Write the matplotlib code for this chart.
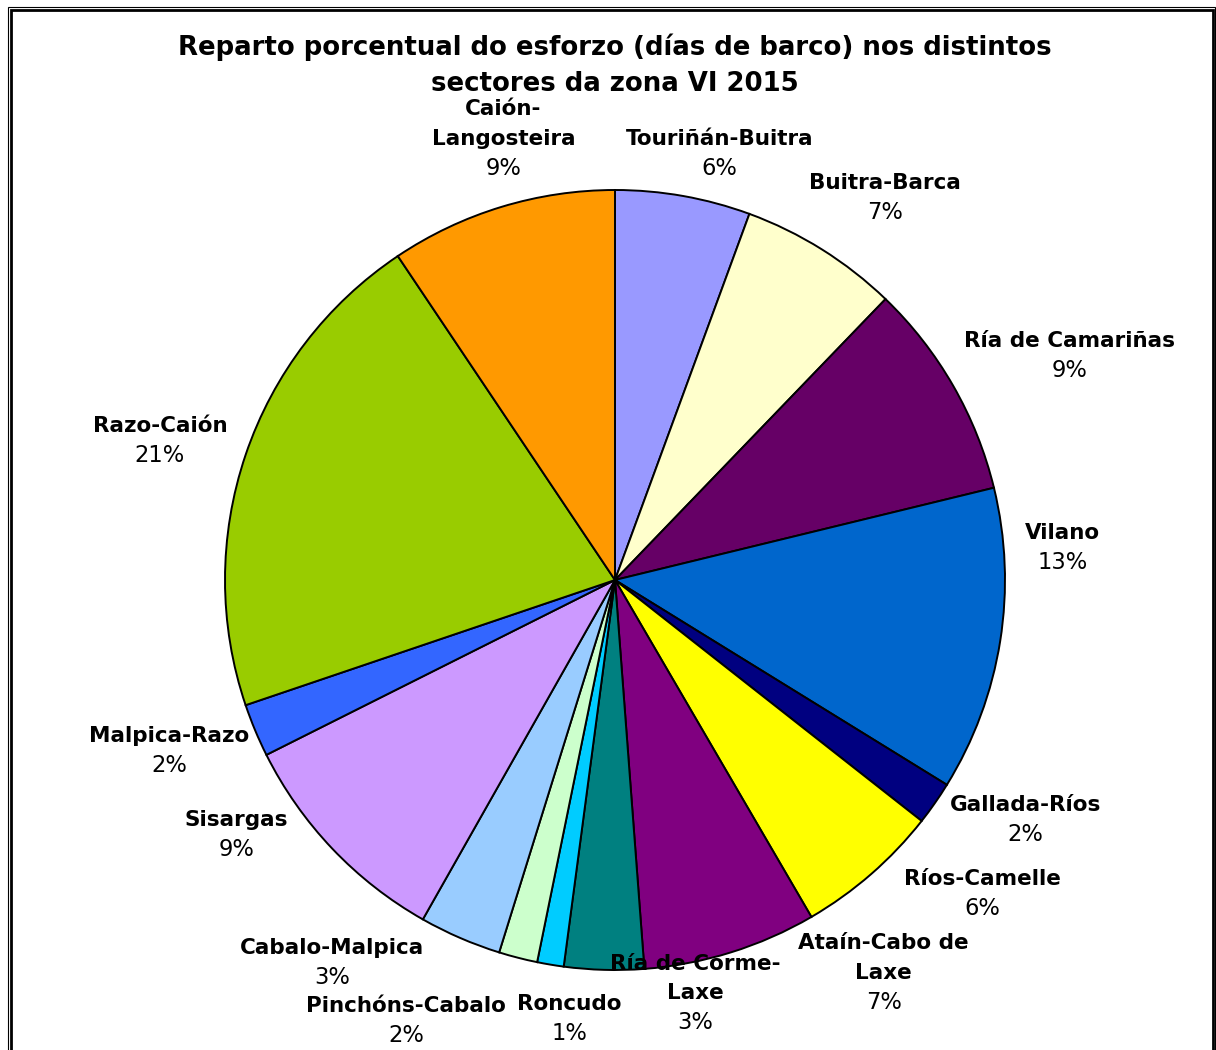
import matplotlib
matplotlib.use("Agg")
import matplotlib.pyplot as plt
import numpy as np
from matplotlib.patches import Rectangle

plt.rcParams['font.family'] = ['DejaVu Sans']

# ---- data (clockwise from 12 o'clock) ----
sectors = ["Touriñán-Buitra", "Buitra-Barca", "Ría de Camariñas", "Vilano",
           "Gallada-Ríos", "Ríos-Camelle", "Ataín-Cabo de\nLaxe",
           "Ría de Corme-\nLaxe", "Roncudo", "Pinchóns-Cabalo",
           "Cabalo-Malpica", "Sisargas", "Malpica-Razo", "Razo-Caión",
           "Caión-\nLangosteira"]
shares = [5.6, 6.6, 9.0, 12.6, 1.8, 6.0, 7.2, 3.3, 1.1, 1.6, 3.4, 9.4, 2.2, 20.8, 9.4]
colors = ["#9999FF", "#FFFFCC", "#660066", "#0066CC", "#000080", "#FFFF00",
          "#800080", "#008080", "#00CCFF", "#CCFFCC", "#99CCFF", "#CC99FF",
          "#3366FF", "#99CC00", "#FF9900"]
title = "Reparto porcentual do esforzo (días de barco) nos distintos\nsectores da zona VI 2015"

# ---- layout: label block centres as (degrees clockwise from top, radius factor) ----
label_pos = [(13.8, 1.125), (35.2, 1.20), (63.8, 1.30), (85.9, 1.15),
             (120.3, 1.22), (130.5, 1.24), (145.6, 1.22), (169.0, 1.08),
             (185.9, 1.13), (205.4, 1.25), (216.5, 1.22), (236.0, 1.17),
             (249.0, 1.225), (287.0, 1.22), (345.8, 1.167)]

W, H, DPI = 1216, 1050, 100
CX, CY, R = 615, 580, 390   # pie centre / radius in pixels

fig = plt.figure(figsize=(W / DPI, H / DPI), dpi=DPI)
ax = fig.add_axes([0, 0, 1, 1])
ax.pie(shares, colors=colors, startangle=90, counterclock=False, radius=1,
       wedgeprops=dict(edgecolor="black", linewidth=1.4))
ax.set_xlim(-CX / R, (W - CX) / R)
ax.set_ylim(-(H - CY) / R, CY / R)
ax.set_aspect('auto')
ax.axis('off')

total = sum(shares)
line_h = 29.5 / R
for name, val, (ang, rf) in zip(sectors, shares, label_pos):
    a = np.deg2rad(ang)
    x, y = rf * np.sin(a), rf * np.cos(a)
    lines = name.split("\n") + [f"{round(val / total * 100):.0f}%"]
    n = len(lines)
    for i, ln in enumerate(lines):
        yy = y - (i - (n - 1) / 2) * line_h
        last = (i == n - 1)
        ax.text(x, yy, ln, ha='center', va='center',
                fontsize=16.3 if last else 15.5,
                fontweight='normal' if last else 'bold', color='black')

fig.text(615 / W, 1 - 65 / H, title, ha='center', va='center', fontsize=18.7,
         fontweight='bold', linespacing=1.5)

# chart area border
fig.patches.append(Rectangle((11 / W, -0.05), (1213 - 11) / W, 1 - 10 / H + 0.05,
                             transform=fig.transFigure, fill=False,
                             edgecolor='black', linewidth=2.0))
fig.patches.append(Rectangle((8 / W, -0.05), (1215 - 8) / W, 1 - 7 / H + 0.05,
                             transform=fig.transFigure, fill=False,
                             edgecolor='black', linewidth=0.8))

fig.savefig("out.png", dpi=DPI)
